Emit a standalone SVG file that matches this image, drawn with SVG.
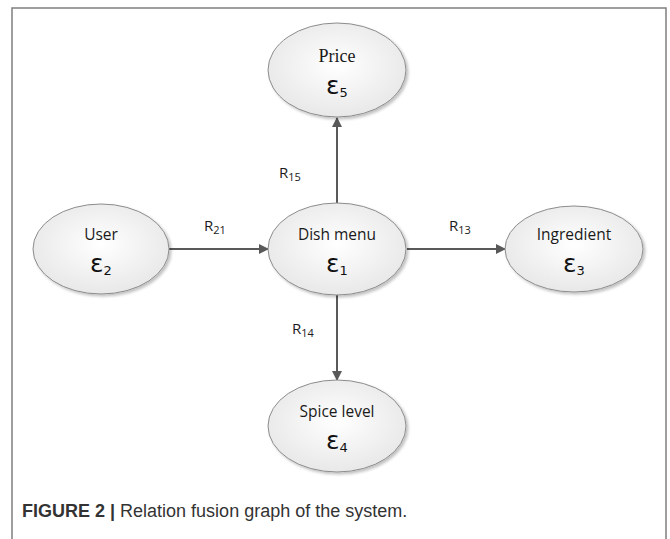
<svg xmlns="http://www.w3.org/2000/svg" width="670" height="539" viewBox="0 0 670 539">
<defs>
<radialGradient id="g" cx="0.5" cy="0.45" r="0.6">
<stop offset="0" stop-color="#ffffff"/>
<stop offset="1" stop-color="#e6e6e6"/>
</radialGradient>
<filter id="sh" x="-10%" y="-10%" width="125%" height="125%">
<feGaussianBlur in="SourceAlpha" stdDeviation="1.5"/>
<feOffset dx="1.5" dy="2" result="b"/>
<feComponentTransfer><feFuncA type="linear" slope="0.25"/></feComponentTransfer>
<feMerge><feMergeNode/><feMergeNode in="SourceGraphic"/></feMerge>
</filter>
<marker id="ah" markerWidth="10" markerHeight="10" refX="9" refY="5" orient="auto" markerUnits="userSpaceOnUse">
<path d="M0,0 L10,5 L0,10 Z" fill="#595959"/>
</marker>
</defs>
<style>
.node ellipse{fill:url(#g);stroke:#8c8c8c;stroke-width:1;filter:url(#sh)}
.lbl{font-family:"Open Sans","Liberation Sans",sans-serif;font-size:15.5px;fill:#1a1a1a;text-anchor:middle}
.ser{font-family:"Liberation Serif",serif;font-size:18px;fill:#1a1a1a;text-anchor:middle}
.eps{font-family:"DejaVu Sans","Liberation Sans",sans-serif;font-size:25px;fill:#111;text-anchor:middle}
.sub{font-size:13px}
.rl{font-family:"Open Sans","Liberation Sans",sans-serif;font-size:15px;fill:#1a1a1a}
.rl .s{font-size:11px}
.conn line{stroke:#595959;stroke-width:2;marker-end:url(#ah)}
.cap{font-family:"Liberation Sans",Arial,sans-serif;font-size:18px;fill:#333}
</style>
<path d="M12,539 V8 H666 V539" fill="none" stroke="#7f7f7f" stroke-width="1.5"/>
<g id="connectors" class="conn">
<line x1="337" y1="203" x2="337" y2="118"/>
<line x1="169" y1="249" x2="268" y2="249"/>
<line x1="407" y1="249" x2="505" y2="249"/>
<line x1="337" y1="295" x2="337" y2="380"/>
</g>
<g id="labels">
<text class="rl" x="279" y="178">R<tspan class="s" dy="3">15</tspan></text>
<text class="rl" x="204" y="231">R<tspan class="s" dy="3">21</tspan></text>
<text class="rl" x="449" y="231">R<tspan class="s" dy="3">13</tspan></text>
<text class="rl" x="292" y="334">R<tspan class="s" dy="3">14</tspan></text>
</g>
<g id="price" class="node">
<ellipse cx="337" cy="70" rx="69" ry="47"/>
<text class="ser" x="337" y="62">Price</text>
<text class="eps" x="337" y="94">ε<tspan class="sub" dy="3">5</tspan></text>
</g>
<g id="user" class="node">
<ellipse cx="101" cy="249" rx="68" ry="45"/>
<text class="lbl" x="101" y="240">User</text>
<text class="eps" x="101" y="272">ε<tspan class="sub" dy="3">2</tspan></text>
</g>
<g id="dish" class="node">
<ellipse cx="337" cy="249" rx="69" ry="46"/>
<text class="lbl" x="337" y="240">Dish menu</text>
<text class="eps" x="337" y="272">ε<tspan class="sub" dy="3">1</tspan></text>
</g>
<g id="ingredient" class="node">
<ellipse cx="574" cy="249" rx="69" ry="43"/>
<text class="lbl" x="574" y="240">Ingredient</text>
<text class="eps" x="574" y="272">ε<tspan class="sub" dy="3">3</tspan></text>
</g>
<g id="spice" class="node">
<ellipse cx="337" cy="426" rx="69" ry="46"/>
<text class="lbl" x="337" y="417">Spice level</text>
<text class="eps" x="337" y="449">ε<tspan class="sub" dy="3">4</tspan></text>
</g>
<text class="cap" x="22" y="517"><tspan font-weight="bold">FIGURE 2 |</tspan> Relation fusion graph of the system.</text>
</svg>
